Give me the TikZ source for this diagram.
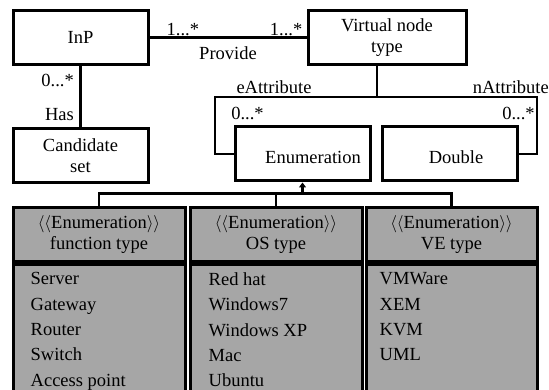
\documentclass[tikz,border=0pt]{standalone}
\usepackage{fontspec}
\setmainfont{Liberation Serif}
\usetikzlibrary{arrows.meta}
\definecolor{enumgrey}{RGB}{166,166,166}
\tikzset{
    classbox/.style={draw, line width=3pt, align=center, inner sep=0pt, minimum width=135pt, minimum height=54pt},
    enumhead/.style={draw, line width=3pt, fill=enumgrey, align=center, inner sep=0pt, minimum width=172pt, minimum height=54pt},
    enumbody/.style={draw, line width=3pt, fill=enumgrey, inner sep=0pt, minimum width=172pt, minimum height=140pt, anchor=north},
    listtext/.style={anchor=north west, align=left, inner sep=0pt, font=\fontsize{18.5}{25.3}\selectfont},
    link/.style={line width=2.6pt},
    mult/.style={inner sep=1pt}
}
\begin{document}
\begin{tikzpicture}[x=1pt, y=-1pt, font=\fontsize{18.5}{21}\selectfont]
                \useasboundingbox (0, 0) rectangle (549, 390);
                \clip (0, 0) rectangle (549, 390);

                \node[classbox] (inp) at (80.5, 37.5) {InP};
                \node[classbox, minimum width=158pt] (vnt) at (387, 37.5) {Virtual node\\type};
                \node[classbox] (cand) at (80.5, 155.5) {Candidate\\set};
                \node[classbox, text height=19pt, text depth=0pt] (enum) at (302.5, 154) {\hspace*{21pt}Enumeration};
                \node[classbox, text height=19pt, text depth=0pt] (dbl) at (449.5, 154) {\hspace*{13pt}Double};

                \draw[link] (inp) -- (vnt);
                \node[mult, anchor=south west] (provl) at ([xshift=16pt, yshift=1pt]inp.east) {1...*};
                \node[mult, anchor=south east] (provr) at ([xshift=-3pt, yshift=1pt]vnt.west) {1...*};
                \node (prov) at (228, 53) {Provide};

                \draw[link] (inp) -- (cand);
                \node[mult, anchor=east] (hasm) at (75, 80) {0...*};
                \node[mult, anchor=east] (has) at (75, 115) {Has};

                \coordinate (lcorner) at (215, 97);
                \coordinate (rcorner) at (537, 97);
                \draw[link] ([xshift=-10pt]vnt.south) -- ([xshift=-10pt]vnt.south |- lcorner);
                \draw[link] (enum.west) -| (lcorner) -- (rcorner) |- (dbl.east);
                \node (eattr) at (274, 87) {eAttribute};
                \node[anchor=east, inner sep=0pt] (nattr) at (549, 87) {nAttribute};
                \node[mult] (enumm) at (247.5, 113) {0...*};
                \node[mult] (dblm) at (518.5, 113) {0...*};

                \node[enumhead] (fhead) at (99, 235) {$\langle\langle$Enumeration$\rangle\rangle$\\function type};
                \node[enumhead] (ohead) at (276, 235) {$\langle\langle$Enumeration$\rangle\rangle$\\OS type};
                \node[enumhead, minimum width=171pt] (vhead) at (451.5, 235) {$\langle\langle$Enumeration$\rangle\rangle$\\VE type};
                \node[enumbody] (fbody) at (fhead.south) {};
                \node[enumbody] (obody) at (ohead.south) {};
                \node[enumbody, minimum width=171pt] (vbody) at (vhead.south) {};
                \node[listtext] (flist) at ([xshift=19pt, yshift=-9pt]fbody.north west) {Server\\Gateway\\Router\\Switch\\Access point};
                \node[listtext] (olist) at ([xshift=20pt, yshift=-9pt]obody.north west) {Red hat\\Windows7\\Windows XP\\Mac\\Ubuntu};
                \node[listtext] (vlist) at ([xshift=15pt, yshift=-9pt]vbody.north west) {VMWare\\XEM\\KVM\\UML};

                \coordinate (gbar) at ([yshift=13pt]fhead.north);
                \draw[link] (fhead.north) -- (gbar) -| (vhead.north);
                \draw[link] (ohead.north) -- (ohead.north |- gbar);
                \draw[link, -{Triangle[length=5pt, width=7pt]}] (enum.south |- gbar) -- (enum.south);
            \end{tikzpicture}
\end{document}
